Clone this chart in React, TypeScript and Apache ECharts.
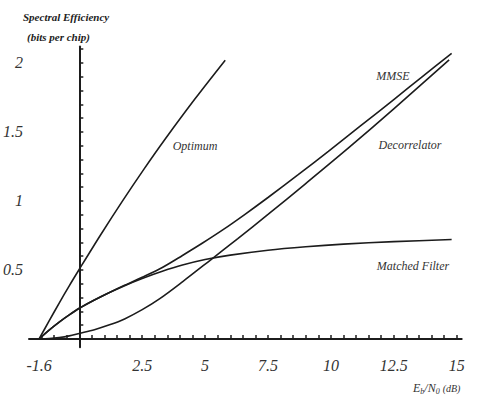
import React, { useEffect, useRef } from "react";
import * as echarts from "echarts";

// ---- data ----
const optimumX = [-1.6, -1.2, -0.8, -0.4, 0, 0.85, 1.7, 2.55, 3.4, 4.6, 5.8];
const optimumY = [0, 0.13, 0.26, 0.385, 0.505, 0.755, 0.995, 1.225, 1.445, 1.74, 2.02];

const mmseX = [-1.6, -1.2, -0.8, -0.4, 0, 0.6, 1.2, 1.8, 2.5, 3.3, 4.1, 4.9, 5.7, 6.6, 7.5, 8.7, 9.9, 11.2, 12.5, 13.6, 14.8];
const mmseY = [0, 0.064, 0.122, 0.174, 0.222, 0.282, 0.337, 0.389, 0.447, 0.518, 0.605, 0.695, 0.79, 0.905, 1.025, 1.19, 1.36, 1.547, 1.735, 1.895, 2.07];

const decorX = [-1.6, -1.2, -0.8, -0.4, 0, 0.6, 1.2, 1.8, 2.5, 3.2, 4.1, 5.2, 6.3, 7.5, 9, 10.7, 12.5, 14.7];
const decorY = [0, 0.003, 0.01, 0.022, 0.04, 0.067, 0.102, 0.145, 0.212, 0.292, 0.414, 0.57, 0.727, 0.902, 1.126, 1.384, 1.667, 2.023];

const mfX = [-1.6, -1.2, -0.8, -0.4, 0, 0.6, 1.2, 1.8, 2.5, 3.3, 4.1, 5, 6, 7.5, 9, 10.5, 12.5, 14.8];
const mfY = [0, 0.064, 0.122, 0.174, 0.222, 0.282, 0.336, 0.386, 0.438, 0.49, 0.535, 0.575, 0.607, 0.643, 0.668, 0.687, 0.705, 0.72];

const xTickLabels = [-1.6, 2.5, 5, 7.5, 10, 12.5, 15];
const xTicks = [
  -1.5, -1, -0.5, 0, 0.5, 1, 1.5, 2, 2.5, 3, 3.5, 4, 4.5, 5, 5.5, 6, 6.5, 7, 7.5, 8,
  8.5, 9, 9.5, 10, 10.5, 11, 11.5, 12, 12.5, 13, 13.5, 14, 14.5, 15,
];
const yTickLabels = [0.5, 1, 1.5, 2];
const yTicks = [
  0.1, 0.2, 0.3, 0.4, 0.5, 0.6, 0.7, 0.8, 0.9, 1, 1.1, 1.2, 1.3, 1.4, 1.5, 1.6, 1.7,
  1.8, 1.9, 2, 2.1,
];

const curveNames = ["Optimum", "MMSE", "Decorrelator", "Matched Filter"];

const pairs = (xs: number[], ys: number[]) => xs.map((x, i) => [x, ys[i]]);

const SERIF = "'Liberation Serif', 'DejaVu Serif', serif";
const INK = "#1c1c1c";

export default function App() {
  const ref = useRef<HTMLDivElement>(null);

  useEffect(() => {
    if (!ref.current) return;
    const chart = echarts.init(ref.current, undefined, { renderer: "svg" });

    const lineSeries = (name: string, xs: number[], ys: number[]) => ({
      name,
      type: "line",
      data: pairs(xs, ys),
      smooth: 0.3,
      showSymbol: false,
      symbol: "none",
      lineStyle: { color: INK, width: 1.6 },
      z: 3,
    });

    const labelStyle = {
      fontFamily: SERIF,
      fontStyle: "italic",
      fontSize: 12,
      fill: "#333",
      textAlign: "center",
      textVerticalAlign: "middle",
    };

    chart.setOption({
      animation: false,
      backgroundColor: "#ffffff",
      grid: { left: 23.7, right: 16.3, top: 46.4, bottom: 51.8, containLabel: false },
      xAxis: {
        type: "value",
        min: -2.0,
        max: 15.2,
        axisLine: { show: true, onZero: true, lineStyle: { color: INK, width: 2 } },
        axisTick: {
          show: true,
          inside: true,
          length: 4,
          customValues: xTicks,
          lineStyle: { color: INK, width: 1.5 },
        },
        axisLabel: {
          show: true,
          customValues: xTickLabels,
          margin: 10,
          fontFamily: SERIF,
          fontStyle: "italic",
          fontSize: 16,
          color: "#333",
        },
        splitLine: { show: false },
      },
      yAxis: {
        type: "value",
        min: -0.06,
        max: 2.12,
        axisLine: { show: true, onZero: true, lineStyle: { color: INK, width: 2 } },
        axisTick: {
          show: true,
          inside: true,
          length: 4,
          customValues: yTicks,
          lineStyle: { color: INK, width: 1.5 },
        },
        axisLabel: {
          show: true,
          customValues: yTickLabels,
          margin: 6,
          fontFamily: SERIF,
          fontStyle: "italic",
          fontSize: 16,
          color: "#333",
        },
        splitLine: { show: false },
      },
      series: [
        lineSeries(curveNames[0], optimumX, optimumY),
        lineSeries(curveNames[1], mmseX, mmseY),
        lineSeries(curveNames[2], decorX, decorY),
        lineSeries(curveNames[3], mfX, mfY),
      ],
      graphic: [
        {
          type: "text",
          left: 23,
          top: 11,
          style: {
            text: "Spectral Efficiency",
            fontFamily: SERIF,
            fontStyle: "italic",
            fontWeight: "bold",
            fontSize: 11,
            fill: "#222",
          },
        },
        {
          type: "text",
          left: 27,
          top: 31,
          style: {
            text: "(bits per chip)",
            fontFamily: SERIF,
            fontStyle: "italic",
            fontWeight: "bold",
            fontSize: 11,
            fill: "#222",
          },
        },
        {
          type: "text",
          left: 413,
          top: 382,
          style: {
            text: "E{s|b}/N{s|0} {u|(dB)}",
            fontFamily: SERIF,
            fontStyle: "italic",
            fontSize: 12,
            fill: "#333",
            rich: {
              s: { fontFamily: SERIF, fontStyle: "italic", fontSize: 8, verticalAlign: "bottom", padding: [6, 0, 0, 0], fill: "#333" },
              u: { fontFamily: SERIF, fontStyle: "italic", fontSize: 10, fill: "#333" },
            },
          },
        },
        { type: "text", x: 195, y: 146, style: { ...labelStyle, text: curveNames[0] } },
        { type: "text", x: 393, y: 76, style: { ...labelStyle, text: curveNames[1] } },
        { type: "text", x: 410, y: 145, style: { ...labelStyle, text: curveNames[2] } },
        { type: "text", x: 413, y: 266, style: { ...labelStyle, text: curveNames[3] } },
      ],
    });

    return () => chart.dispose();
  }, []);

  return (
    <div
      ref={ref}
      style={{ position: "absolute", left: 0, top: 0, width: 478, height: 399, background: "#fff" }}
    />
  );
}
